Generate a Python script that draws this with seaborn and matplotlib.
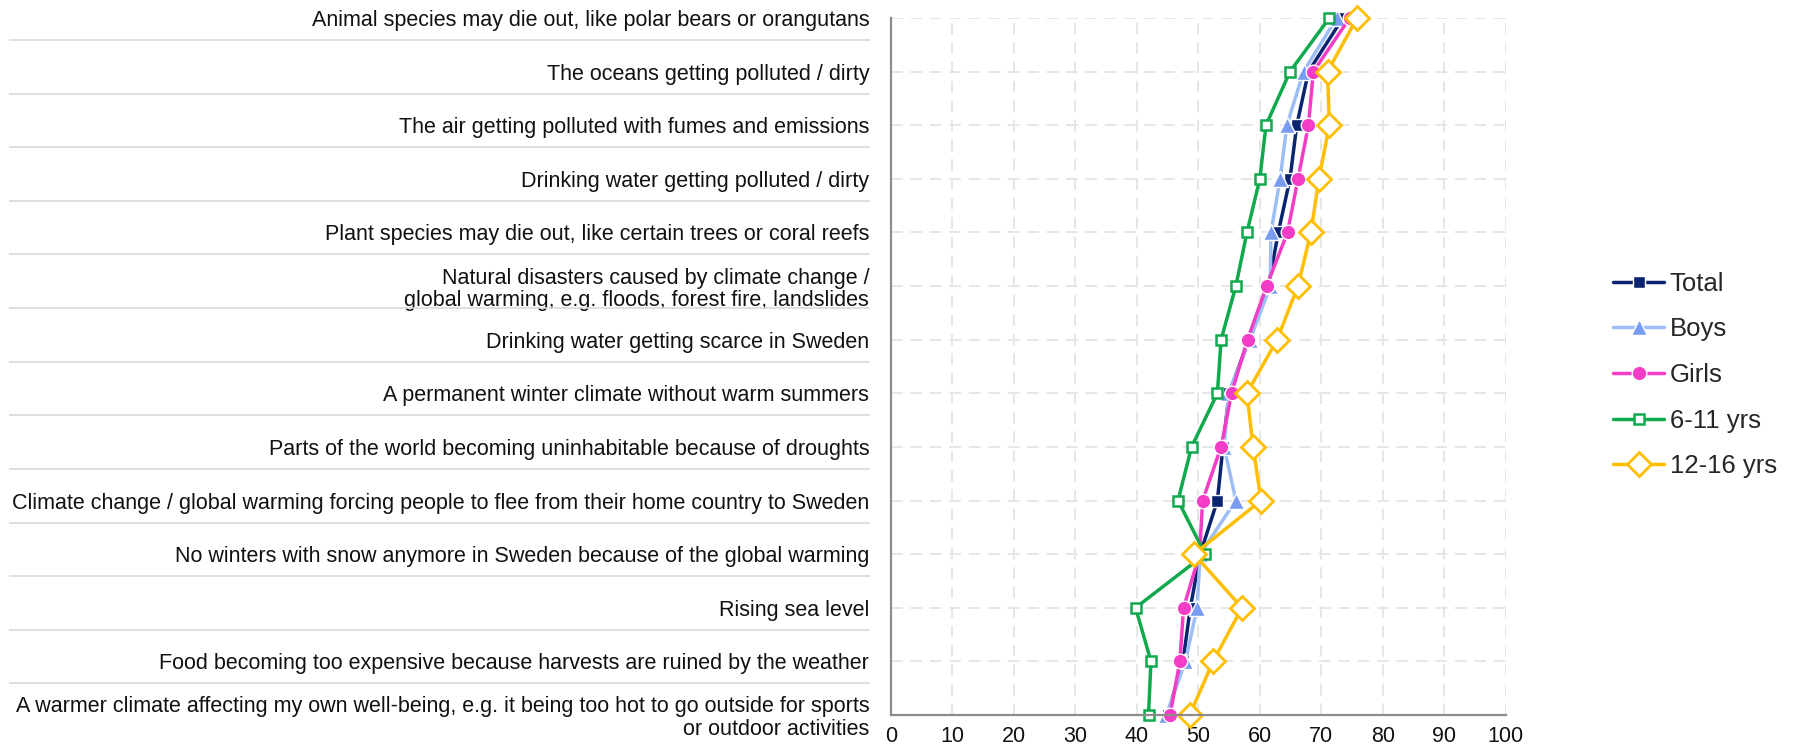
import matplotlib
matplotlib.use("Agg")
import matplotlib.pyplot as plt
import matplotlib.transforms as mtransforms
import numpy as np
import seaborn as sns

# categories, top to bottom
categories = [
    "Animal species may die out, like polar bears or orangutans",
    "The oceans getting polluted / dirty",
    "The air getting polluted with fumes and emissions",
    "Drinking water getting polluted / dirty",
    "Plant species may die out, like certain trees or coral reefs",
    "Natural disasters caused by climate change /\nglobal warming, e.g. floods, forest fire, landslides",
    "Drinking water getting scarce in Sweden",
    "A permanent winter climate without warm summers",
    "Parts of the world becoming uninhabitable because of droughts",
    "Climate change / global warming forcing people to flee from their home country to Sweden",
    "No winters with snow anymore in Sweden because of the global warming",
    "Rising sea level",
    "Food becoming too expensive because harvests are ruined by the weather",
    "A warmer climate affecting my own well-being, e.g. it being too hot to go outside for sports\nor outdoor activities",
]

total = [73.5, 67.9, 66.0, 64.9, 63.0, 61.4, 58.2, 55.0, 54.0, 53.1, 50.3, 48.7, 47.5, 45.0]
boys = [72.5, 67.1, 64.4, 63.3, 61.8, 61.7, 58.4, 54.9, 54.2, 56.1, 50.3, 49.8, 47.9, 44.8]
girls = [74.6, 68.7, 67.9, 66.2, 64.5, 61.1, 58.0, 55.4, 53.7, 50.7, 50.2, 47.6, 47.0, 45.4]
age_6_11 = [71.3, 64.9, 61.0, 60.0, 57.9, 56.1, 53.7, 53.1, 48.9, 46.7, 51.1, 39.8, 42.3, 41.9]
age_12_16 = [75.8, 71.0, 71.3, 69.6, 68.3, 66.2, 62.8, 57.9, 58.9, 60.2, 49.3, 57.1, 52.4, 48.6]

x_ticks = list(range(0, 101, 10))

sns.set_theme(style="white")
plt.rcParams["font.family"] = ["Liberation Sans", "DejaVu Sans"]

fig = plt.figure(figsize=(17.97, 7.5), dpi=100)
ax = fig.add_axes([0.4957, 0.0467, 0.3423, 0.9293])

pos = np.arange(len(categories))

series = [
    ("Total", total, dict(color="#0A2470", marker="s", markersize=9,
                          markerfacecolor="#0A2470", markeredgecolor="white", markeredgewidth=1)),
    ("Boys", boys, dict(color="#9DBDF5", marker="^", markersize=11,
                        markerfacecolor="#7A9CF0", markeredgecolor="white", markeredgewidth=1)),
    ("Girls", girls, dict(color="#F43DC6", marker="o", markersize=10.5,
                          markerfacecolor="#F43DC6", markeredgecolor="white", markeredgewidth=1)),
    ("6-11 yrs", age_6_11, dict(color="#10A94D", marker="s", markersize=7.5,
                                markerfacecolor="white", markeredgecolor="#10A94D", markeredgewidth=1.8)),
    ("12-16 yrs", age_12_16, dict(color="#FFBF00", marker="D", markersize=12,
                                  markerfacecolor="white", markeredgecolor="#FFBF00", markeredgewidth=2)),
]

for name, vals, kw in series:
    sns.lineplot(x=vals, y=pos, sort=False, estimator=None, ax=ax,
                 linewidth=2.5, label=name, clip_on=False, **kw)

# axes styling
ax.set_xlim(0, 100)
ax.set_ylim(len(categories) - 1, 0)
ax.set_xticks(x_ticks)
ax.set_yticks(pos)
ax.set_yticklabels(categories, fontsize=15.5, color="#111111", linespacing=1.1)
ax.tick_params(axis="x", length=0, pad=8, labelsize=15.5, labelcolor="#111111")
ax.tick_params(axis="y", length=9.5, width=1.5, color="#8C8C8C", pad=6, direction="out")
ax.set_xlabel("")
ax.set_ylabel("")

for side in ["top", "right"]:
    ax.spines[side].set_visible(False)
for side in ["left", "bottom"]:
    ax.spines[side].set_color("#8C8C8C")
    ax.spines[side].set_linewidth(1.6)

# dashed grid
for xv in x_ticks[1:]:
    ax.axvline(xv, color="#E6E6E6", linewidth=1.4, linestyle=(0, (6, 4)), zorder=0)
for yv in pos[:-1]:
    ax.axhline(yv, color="#E6E6E6", linewidth=1.4, linestyle=(0, (6, 4)), zorder=0)

# separators between category labels
trans = mtransforms.blended_transform_factory(fig.transFigure, ax.transData)
ax.hlines(pos[:-1] + 0.41, 0.005, 0.484, transform=trans, color="#D9D9D9",
          linewidth=1.2, clip_on=False)

leg = ax.legend(loc="center left", bbox_to_anchor=(0.8976, 0.5),
                bbox_transform=fig.transFigure, frameon=False, fontsize=18.5,
                handlelength=2.0, handletextpad=0.2, labelspacing=0.84,
                borderpad=0, borderaxespad=0)

fig.savefig("out.png", dpi=100, facecolor="white")
